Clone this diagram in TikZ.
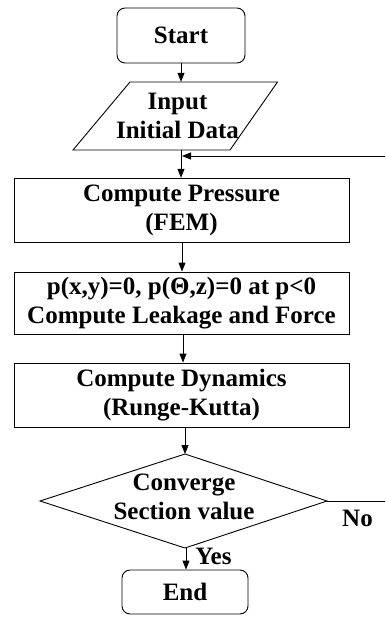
\documentclass[tikz,border=0pt]{standalone}
\usepackage{fontspec}
\setmainfont{Liberation Serif}
\usetikzlibrary{arrows.meta,calc}
\begin{document}
\begin{tikzpicture}[x=1pt,y=-1pt,
  every node/.style={font=\fontsize{25}{29}\selectfont\bfseries,align=center,inner sep=0pt},
  procbox/.style={draw,line width=0.9pt,minimum width=335pt},
  termbox/.style={draw,line width=0.9pt,rounded corners=8pt},
  flow/.style={line width=0.9pt,-{Triangle[length=9pt,width=7pt]}},
  plain/.style={line width=0.9pt}]
  \useasboundingbox (0,0) rectangle (385,620);
  \clip (0,0) rectangle (385,620);

  % terminals
  \node[termbox,minimum width=128pt,minimum height=55pt] (start) at (181,35.5) {Start};
  \node[termbox,minimum width=126pt,minimum height=44pt] (end) at (185,592) {End};

  % input (parallelogram drawn around the node)
  \node[minimum width=150pt,minimum height=68pt] (input) at (177.5,116) {Input\\Initial Data};
  \draw[plain] ($(input.center)+(-47.5,-34)$) -- ($(input.center)+(100,-34)$)
    -- ($(input.center)+(52.5,34)$) -- ($(input.center)+(-104.5,34)$) -- cycle;

  % process boxes
  \node[procbox,minimum height=64.5pt] (press) at (181.5,210.5) {Compute Pressure\\(FEM)};
  \node[procbox,minimum height=62pt] (leak) at (181.5,303) {p(x,y)=0, p(Θ,z)=0 at p<0\\Compute Leakage and Force};
  \node[procbox,minimum height=64pt] (dyn) at (181.5,395) {Compute Dynamics\\(Runge-Kutta)};

  % decision
  \coordinate (dT) at (185,454);
  \coordinate (dL) at (40,501);
  \coordinate (dR) at (327,501);
  \coordinate (dB) at (185,548);
  \draw[plain] (dT) -- (dR) -- (dB) -- (dL) -- cycle;
  \node (dec) at (184,497) {Converge\\Section value};

  % connectors
  \coordinate (join) at (181,156);
  \coordinate (loopR) at (392,501);
  \draw[flow] (start.south) -- (start.south |- input.north);
  \draw[flow] (join |- input.south) -- (join |- press.north);
  \draw[flow] ([xshift=0.5pt]press.south) -- ([xshift=0.5pt]press.south |- leak.north);
  \draw[flow] ([xshift=1.5pt]leak.south) -- ([xshift=1.5pt]leak.south |- dyn.north);
  \draw[flow] (dyn.south -| dT) -- (dT);
  \draw[flow] ([xshift=1pt]dB) -- ([xshift=1pt]dB |- end.north);
  \draw[flow] (dR) -- (loopR) |- ([xshift=1pt]join);

  % branch labels
  \node (no) at (357.5,518) {No};
  \node (yes) at (213.5,556) {Yes};
\end{tikzpicture}
\end{document}
